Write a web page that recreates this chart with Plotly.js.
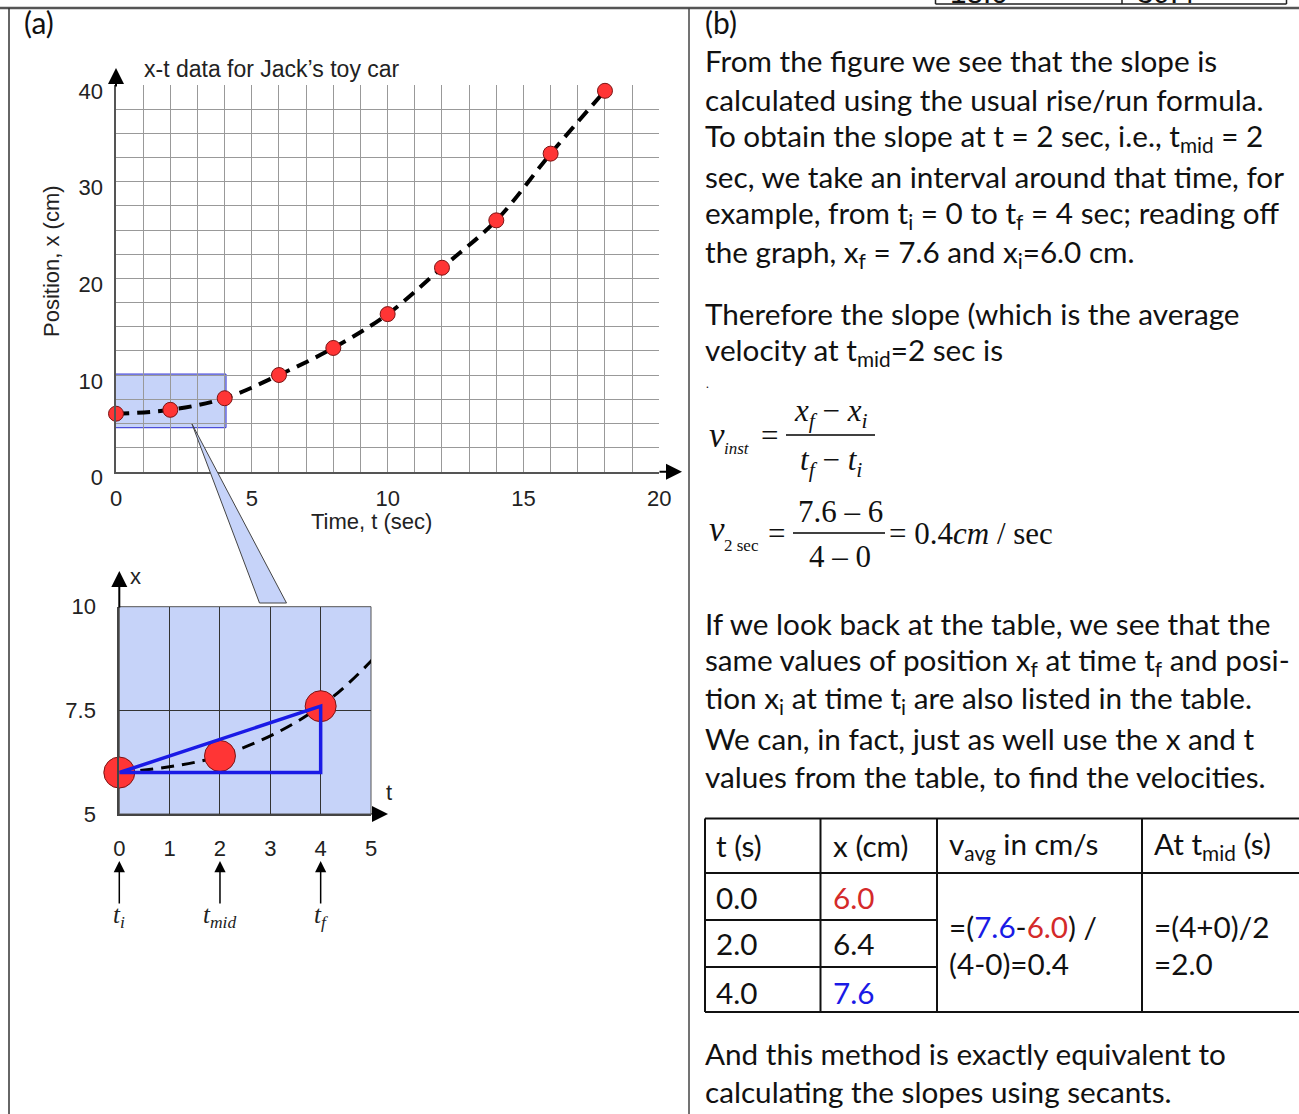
<!DOCTYPE html>
<html>
<head>
<meta charset="utf-8">
<script src="https://cdn.plot.ly/plotly-3.0.1.min.js"></script>
<style>html,body{margin:0;padding:0;background:#fff;}</style>
</head>
<body>
<div id="fig" style="width:1299px;height:1114px;"></div>
<script>
// ---- data: position of Jack's toy car over time ----
const tSec = [0, 2, 4, 6, 8, 10, 12, 14, 16, 18];
const xCm  = [6.0, 6.4, 7.6, 10.0, 12.8, 16.3, 21.1, 26.0, 32.9, 39.4];

// table rows used for the secant slope
const tableT = ['0.0', '2.0', '4.0'];
const tableX = ['6.0', '6.4', '7.6'];
const tableHead = ['t (s)', 'x (cm)', 'v<sub>avg</sub> in cm/s', 'At t<sub>mid</sub> (s)'];
const prevRow = ['18.0', '39.4'];

// tick labels of the zoomed view
const zoomYTicks = [5, 7.5, 10];
const zoomYLabels = ['5', '7.5', '10'];

// explanatory text, panel (b)
const bodyTop = [
  'From the figure we see that the slope is',
  'calculated using the usual rise/run formula.',
  'To obtain the slope at t = 2 sec, i.e., t<sub>mid</sub> = 2',
  'sec, we take an interval around that time, for',
  'example, from t<sub>i</sub> = 0 to t<sub>f</sub> = 4 sec; reading off',
  'the graph, x<sub>f</sub> = 7.6 and x<sub>i</sub>=6.0 cm.'
];
const bodyMid = [
  'Therefore the slope (which is the average',
  'velocity at t<sub>mid</sub>=2 sec is'
];
const bodyLow = [
  'If we look back at the table, we see that the',
  'same values of position x<sub>f</sub> at time t<sub>f</sub> and posi-',
  'tion x<sub>i</sub> at time t<sub>i</sub> are also listed in the table.',
  'We can, in fact, just as well use the x and t',
  'values from the table, to find the velocities.'
];
const bodyEnd = [
  'And this method is exactly equivalent to',
  'calculating the slopes using secants.'
];

// ---- page geometry helpers ----
const W = 1299, H = 1114;
const PX = v => v / W;
const PY = v => 1 - v / H;

const FONT_TXT = 'Lato, "Open Sans", sans-serif';
const FONT_SANS = '"Liberation Sans", Arial, sans-serif';
const FONT_SERIF = '"Liberation Serif", "Times New Roman", serif';
const BLUE = '#1a1ae6';
const FILL = '#c6d3f9';
const TS = 29.7;   // body text size

// indices of the initial / middle / final sample
const iI = 0, iM = 1, iF = 2;
const vAvg = (xCm[iF] - xCm[iI]) / (tSec[iF] - tSec[iI]);
const tMid = (tSec[iF] + tSec[iI]) / 2;

function txt(text, x, y, size, opts) {
  opts = opts || {};
  return {
    text: text, xref: 'paper', yref: 'paper', x: PX(x), y: PY(y),
    xanchor: opts.xa || 'left', yanchor: opts.ya || 'middle', showarrow: false,
    textangle: opts.angle || 0,
    font: {family: opts.family || FONT_TXT, size: size, color: opts.color || '#111'}
  };
}
function hline(x0, x1, y, color, w) {
  return {type: 'line', xref: 'paper', yref: 'paper', x0: PX(x0), x1: PX(x1), y0: PY(y), y1: PY(y),
          line: {color: color, width: w}, layer: 'above'};
}
function vline(x, y0, y1, color, w) {
  return {type: 'line', xref: 'paper', yref: 'paper', x0: PX(x), x1: PX(x), y0: PY(y0), y1: PY(y1),
          line: {color: color, width: w}, layer: 'above'};
}
function arrowHead(xTip, yTip, ax, ay, opts) {
  opts = opts || {};
  return {
    xref: opts.xref || 'paper', yref: 'paper',
    x: opts.xref ? xTip : PX(xTip), y: PY(yTip), ax: ax, ay: ay,
    text: '', showarrow: true, arrowhead: 2, arrowsize: opts.size || 1.6,
    arrowwidth: opts.width || 2, arrowcolor: opts.color || '#000', standoff: 0, startstandoff: 0
  };
}

// ---- traces ----
const dash = '13px,8px';
const traces = [
  {x: tSec, y: xCm, xaxis: 'x', yaxis: 'y', mode: 'lines',
   line: {shape: 'spline', color: '#000', width: 4, dash: dash}, hoverinfo: 'skip'},
  {x: tSec, y: xCm, xaxis: 'x', yaxis: 'y', mode: 'markers', cliponaxis: false,
   marker: {size: 15, color: '#ff3535', line: {color: '#7a1414', width: 1}}},
  {x: tSec, y: xCm, xaxis: 'x2', yaxis: 'y2', mode: 'lines',
   line: {shape: 'spline', color: '#000', width: 3, dash: dash}, hoverinfo: 'skip'},
  {x: tSec.slice(iI, iF + 1), y: xCm.slice(iI, iF + 1), xaxis: 'x2', yaxis: 'y2', mode: 'markers',
   cliponaxis: false, marker: {size: 31, color: '#ff3535', line: {color: '#7a1414', width: 1}}},
  // secant triangle from (t_i, x_i) to (t_f, x_f)
  {x: [tSec[iI], tSec[iF], tSec[iF], tSec[iI]], y: [xCm[iI], xCm[iF], xCm[iI], xCm[iI]],
   xaxis: 'x2', yaxis: 'y2', mode: 'lines', cliponaxis: false,
   line: {color: BLUE, width: 3.5}}
];

// ---- axes ----
const tickFont = {family: FONT_SANS, size: 22, color: '#222'};
const layout = {
  width: W, height: H, margin: {l: 0, r: 0, t: 0, b: 0},
  paper_bgcolor: '#fff', plot_bgcolor: 'rgba(0,0,0,0)', showlegend: false,
  title: {text: 'x-t data for Jack\u2019s toy car', x: PX(144), xanchor: 'left',
          y: PY(69), yanchor: 'middle', font: {family: FONT_SANS, size: 23, color: '#222'}},
  xaxis: {domain: [PX(116), PX(659.3)], range: [0, 20], tickmode: 'linear', tick0: 0, dtick: 5,
          showgrid: true, gridcolor: '#999', gridwidth: 1,
          minor: {tick0: 0, dtick: 1, showgrid: true, gridcolor: '#999', gridwidth: 1, ticks: ''},
          showline: true, linecolor: '#555', linewidth: 2.5, ticks: '', zeroline: false,
          tickfont: tickFont, ticklabelstandoff: 5, fixedrange: true},
  yaxis: {domain: [PY(471.7), PY(85)], range: [0, 40], tickmode: 'linear', tick0: 0, dtick: 10,
          showgrid: true, gridcolor: '#999', gridwidth: 1,
          minor: {tick0: 0, dtick: 2.5, showgrid: true, gridcolor: '#999', gridwidth: 1, ticks: ''},
          showline: true, linecolor: '#555', linewidth: 2.5, ticks: '', zeroline: false,
          tickfont: tickFont, ticklabelstandoff: 6, ticklabelshift: 6, fixedrange: true},
  xaxis2: {domain: [PX(119.3), PX(371)], range: [0, 5], anchor: 'y2', tickmode: 'linear', tick0: 0, dtick: 1,
           showgrid: true, gridcolor: '#333', gridwidth: 1,
           showline: true, linecolor: '#444', linewidth: 2, ticks: '', zeroline: false,
           tickfont: tickFont, ticklabelstandoff: 14, fixedrange: true},
  yaxis2: {domain: [PY(814), PY(606.7)], range: [5, 10], anchor: 'x2', tickmode: 'array',
           tickvals: zoomYTicks, ticktext: zoomYLabels,
           showgrid: true, gridcolor: '#333', gridwidth: 1,
           showline: true, linecolor: '#444', linewidth: 2, ticks: '', zeroline: false,
           tickfont: tickFont, ticklabelstandoff: 17, fixedrange: true}
};

// ---- shapes ----
const shapes = [];
// panel frame
shapes.push(hline(0, W, 8, '#555', 2.5));
shapes.push(vline(9, 8, H, '#333', 1.5));
shapes.push(vline(689, 8, H, '#444', 1.5));
// previous table row, cut at the top edge
shapes.push(hline(935.5, 1286.5, 4, '#222', 1.5));
shapes.push(vline(935.5, 0, 4, '#222', 1.5));
shapes.push(vline(1122, 0, 4, '#222', 1.5));
shapes.push(vline(1286.5, 0, 4, '#222', 1.5));
// highlighted window on the main chart
shapes.push({type: 'rect', xref: 'x', yref: 'y', x0: tSec[iI] - 0.1, x1: tSec[iF] + 0.05, y0: 4.55, y1: 10.1,
             fillcolor: FILL, line: {color: '#2a2ad0', width: 1}, layer: 'below'});
// zoomed view background
shapes.push({type: 'rect', xref: 'x2 domain', yref: 'y2 domain', x0: 0, x1: 1, y0: 0, y1: 1,
             fillcolor: FILL, line: {color: '#555', width: 1}, layer: 'below'});
// callout wedge linking window and zoomed view
shapes.push({type: 'path', xref: 'paper', yref: 'paper',
             path: 'M ' + PX(192) + ' ' + PY(424) + ' L ' + PX(259.5) + ' ' + PY(603) +
                   ' L ' + PX(286.5) + ' ' + PY(603) + ' Z',
             fillcolor: FILL, line: {color: '#444', width: 1}, layer: 'above'});
// fraction bars
shapes.push(hline(786, 875, 435, '#000', 1.5));
shapes.push(hline(793, 885, 533, '#000', 1.5));
// data table grid
const colX = [705, 820.5, 937, 1142, 1299];
const rowY = [818.5, 873, 920, 967, 1012];
rowY.forEach((y, k) => {
  const x1 = (k === 2 || k === 3) ? colX[2] : colX[4];
  shapes.push(hline(colX[0], x1, y, '#111', 2));
});
colX.slice(0, 4).forEach(x => shapes.push(vline(x, rowY[0], rowY[4], '#111', 2)));
layout.shapes = shapes;

// ---- annotations ----
const ann = [];
ann.push(txt('(a)', 22, 22, 30));
ann.push(txt('(b)', 703, 22, 30));
// axis titles of the main chart
ann.push(txt('Time, t (sec)', 371, 521, 22, {xa: 'center', family: FONT_SANS, color: '#222'}));
ann.push(txt('Position, x (cm)', 52, 261, 22, {xa: 'center', family: FONT_SANS, color: '#222', angle: -90}));
// axis arrows
ann.push(arrowHead(116, 68, 0, 20));
ann.push(arrowHead(682, 471.7, -24, 0));
ann.push(arrowHead(119.3, 571, 0, 38));
ann.push(arrowHead(388, 814, -18, 0));
ann.push(txt('x', 135, 576, 22, {xa: 'center', family: FONT_SANS, color: '#222'}));
ann.push(txt('t', 389, 792, 22, {xa: 'center', family: FONT_SANS, color: '#222'}));
// markers for t_i, t_mid, t_f under the zoomed view
const markIdx = [iI, iM, iF];
const markLbl = ['<i>t<sub>i</sub></i>', '<i>t<sub>mid</sub></i>', '<i>t<sub>f</sub></i>'];
markIdx.forEach((k, j) => {
  ann.push(arrowHead(tSec[k], 861, 0, 44, {xref: 'x2', size: 1.5, width: 1.5}));
  ann.push({text: markLbl[j], xref: 'x2', yref: 'paper', x: tSec[k], y: PY(916), xanchor: 'center',
            yanchor: 'middle', showarrow: false, font: {family: FONT_SERIF, size: 25, color: '#222'}});
});

// body text
const LH = 38.4;
bodyTop.forEach((s, k) => ann.push(txt(s, 703, 61 + k * LH, TS)));
bodyMid.forEach((s, k) => ann.push(txt(s, 703, 313 + k * LH, TS)));
bodyLow.forEach((s, k) => ann.push(txt(s, 703, 623 + k * LH, TS)));
bodyEnd.forEach((s, k) => ann.push(txt(s, 703, 1053 + k * LH, TS)));
ann.push(txt('.', 704, 383, 12));

// equations
const S = FONT_SERIF;
ann.push(txt('<i>v</i>', 707, 435, 35, {family: S}));
ann.push(txt('<i>inst</i>', 722, 449, 17, {family: S}));
ann.push(txt('=', 769, 436, 31, {xa: 'center', family: S}));
ann.push(txt('<i>x</i><sub><i>f</i></sub> \u2212 <i>x</i><sub><i>i</i></sub>', 831, 413, 31, {xa: 'center', family: S}));
ann.push(txt('<i>t</i><sub><i>f</i></sub> \u2212 <i>t</i><sub><i>i</i></sub>', 831, 462, 31, {xa: 'center', family: S}));
ann.push(txt('<i>v</i>', 707, 529, 35, {family: S}));
ann.push(txt('2 sec', 722, 545, 17, {family: S}));
ann.push(txt('=', 776, 533, 31, {xa: 'center', family: S}));
ann.push(txt(xCm[iF] + ' \u2013 ' + xCm[iI], 840, 511, 31, {xa: 'center', family: S}));
ann.push(txt(tSec[iF] + ' \u2013 ' + tSec[iI], 840, 556, 31, {xa: 'center', family: S}));
ann.push(txt('= ' + vAvg.toFixed(1) + '<i>cm</i> / sec', 887, 533, 31, {family: S}));

// table text
const headX = [714, 831, 947, 1152];
tableHead.forEach((h, k) => ann.push(txt(h, headX[k], 845, TS)));
const rowC = [897, 943, 992];
const xColor = ['#d42a2a', '#111', BLUE];
tableT.forEach((v, k) => {
  ann.push(txt(v, 714, rowC[k], TS));
  ann.push(txt(tableX[k], 831, rowC[k], TS, {color: xColor[k]}));
});
ann.push(txt('=(<span style="color:#1a1ae6">' + tableX[iF] + '</span>-<span style="color:#d42a2a">' +
             tableX[iI] + '</span>) /', 947, 926, TS));
ann.push(txt('(' + tSec[iF] + '-' + tSec[iI] + ')=' + vAvg.toFixed(1), 947, 964, TS));
ann.push(txt('=(' + tSec[iF] + '+' + tSec[iI] + ')/2', 1152, 926, TS));
ann.push(txt('=' + tMid.toFixed(1), 1152, 964, TS));
// last row of the previous table (cut by the page edge)
ann.push(txt(prevRow[0], 948, -7, TS, {family: FONT_SANS}));
ann.push(txt(prevRow[1], 1135, -7, TS, {family: FONT_SANS}));

layout.annotations = ann;

Plotly.newPlot('fig', traces, layout, {staticPlot: true, displayModeBar: false});
</script>
</body>
</html>
